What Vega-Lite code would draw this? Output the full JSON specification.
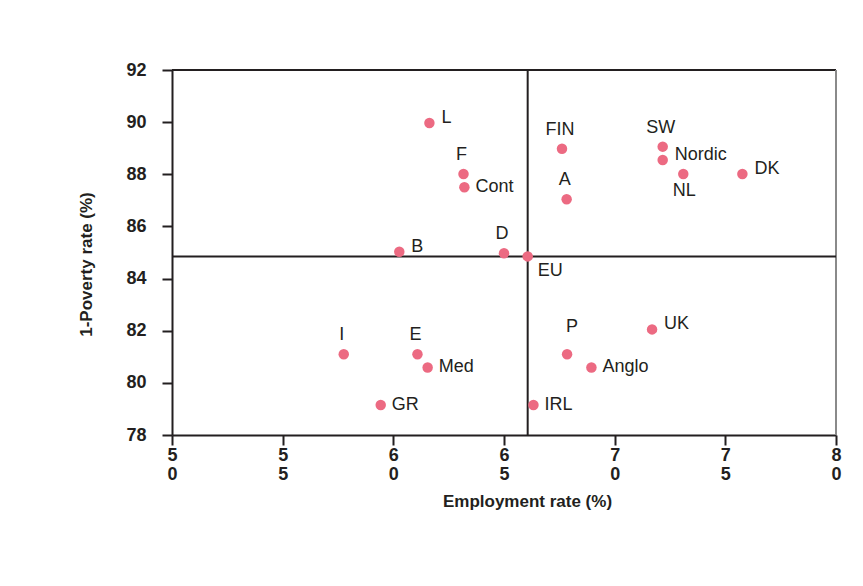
{
  "$schema": "https://vega.github.io/schema/vega-lite/v6.json",
  "autosize": "none",
  "width": 664,
  "height": 365,
  "padding": {"left": 172, "top": 70, "right": 27, "bottom": 151},
  "background": "#ffffff",
  "config": {
    "view": {"stroke": null},
    "font": "Liberation Sans",
    "axis": {
      "domainColor": "#231f20",
      "domainWidth": 2,
      "tickColor": "#231f20",
      "tickWidth": 2,
      "tickSize": 10,
      "labelColor": "#231f20",
      "titleColor": "#231f20",
      "labelFont": "Liberation Sans",
      "titleFont": "Liberation Sans",
      "labelFontWeight": "bold",
      "titleFontWeight": "bold",
      "grid": false
    }
  },
  "data": {
    "values": [
      {"name": "L", "emp": 61.63, "pov": 89.97},
      {"name": "F", "emp": 63.17, "pov": 88.01},
      {"name": "Cont", "emp": 63.21, "pov": 87.5},
      {"name": "FIN", "emp": 67.62, "pov": 88.98},
      {"name": "A", "emp": 67.83, "pov": 87.04},
      {"name": "SW", "emp": 72.17, "pov": 89.06},
      {"name": "Nordic", "emp": 72.17, "pov": 88.55},
      {"name": "NL", "emp": 73.1, "pov": 88.01},
      {"name": "DK", "emp": 75.77, "pov": 88.01},
      {"name": "B", "emp": 60.27, "pov": 85.03},
      {"name": "D", "emp": 65.0, "pov": 84.97},
      {"name": "EU", "emp": 66.07, "pov": 84.85},
      {"name": "I", "emp": 57.76, "pov": 81.1},
      {"name": "E", "emp": 61.09, "pov": 81.1},
      {"name": "Med", "emp": 61.55, "pov": 80.59},
      {"name": "GR", "emp": 59.43, "pov": 79.15},
      {"name": "IRL", "emp": 66.33, "pov": 79.15},
      {"name": "P", "emp": 67.85, "pov": 81.1},
      {"name": "Anglo", "emp": 68.95, "pov": 80.59},
      {"name": "UK", "emp": 71.69, "pov": 82.05}
    ]
  },
  "encoding": {
    "x": {
      "field": "emp",
      "type": "quantitative",
      "scale": {"domain": [50, 80], "nice": false, "zero": false},
      "axis": {
        "title": "Employment rate (%)",
        "values": [50, 55, 60, 65, 70, 75, 80],
        "labelExpr": "split(datum.label, '')",
        "labelFontSize": 18,
        "labelLineHeight": 19,
        "labelPadding": 1,
        "labelFlush": false,
        "titleFontSize": 17,
        "titlePadding": 10,
        "titleX": 355
      }
    },
    "y": {
      "field": "pov",
      "type": "quantitative",
      "scale": {"domain": [78, 92], "nice": false, "zero": false},
      "axis": {
        "title": "1-Poverty rate (%)",
        "values": [78, 80, 82, 84, 86, 88, 90, 92],
        "labelFontSize": 18,
        "labelPadding": 16,
        "labelFlush": false,
        "titleFontSize": 17,
        "titlePadding": 30,
        "titleY": 194
      }
    }
  },
  "layer": [
    {
      "mark": {"type": "rule", "color": "#231f20", "strokeWidth": 2},
      "encoding": {"y": {"datum": 92}, "x": null}
    },
    {
      "mark": {"type": "rule", "color": "#8a8a8a", "strokeWidth": 2},
      "encoding": {"x": {"datum": 80}, "y": null}
    },
    {
      "transform": [{"filter": "datum.name === 'EU'"}],
      "mark": {"type": "rule", "color": "#231f20", "strokeWidth": 2},
      "encoding": {"y": null}
    },
    {
      "transform": [{"filter": "datum.name === 'EU'"}],
      "mark": {"type": "rule", "color": "#231f20", "strokeWidth": 2},
      "encoding": {"x": null}
    },
    {
      "mark": {"type": "circle", "color": "#ec6a82", "opacity": 1, "size": 110}
    },
    {
      "transform": [{"filter": "indexof(['L','B','Nordic','DK','UK'], datum.name) >= 0"}],
      "mark": {"type": "text", "align": "left", "baseline": "middle", "dx": 12, "dy": -5, "fontSize": 18, "color": "#231f20"},
      "encoding": {"text": {"field": "name"}}
    },
    {
      "transform": [{"filter": "indexof(['Cont','Med','GR','IRL','Anglo'], datum.name) >= 0"}],
      "mark": {"type": "text", "align": "left", "baseline": "middle", "dx": 11, "dy": 0, "fontSize": 18, "color": "#231f20"},
      "encoding": {"text": {"field": "name"}}
    },
    {
      "transform": [{"filter": "indexof(['F','FIN','A','D','SW','I','E'], datum.name) >= 0"}],
      "mark": {"type": "text", "align": "center", "baseline": "middle", "dx": -2, "dy": -19, "fontSize": 18, "color": "#231f20"},
      "encoding": {"text": {"field": "name"}}
    },
    {
      "transform": [{"filter": "datum.name === 'P'"}],
      "mark": {"type": "text", "align": "center", "baseline": "middle", "dx": 5, "dy": -27, "fontSize": 18, "color": "#231f20"},
      "encoding": {"text": {"field": "name"}}
    },
    {
      "transform": [{"filter": "datum.name === 'NL'"}],
      "mark": {"type": "text", "align": "center", "baseline": "middle", "dx": 1, "dy": 17, "fontSize": 18, "color": "#231f20"},
      "encoding": {"text": {"field": "name"}}
    },
    {
      "transform": [{"filter": "datum.name === 'EU'"}],
      "mark": {"type": "text", "align": "left", "baseline": "middle", "dx": 10, "dy": 15, "fontSize": 18, "color": "#231f20"},
      "encoding": {"text": {"field": "name"}}
    }
  ]
}
